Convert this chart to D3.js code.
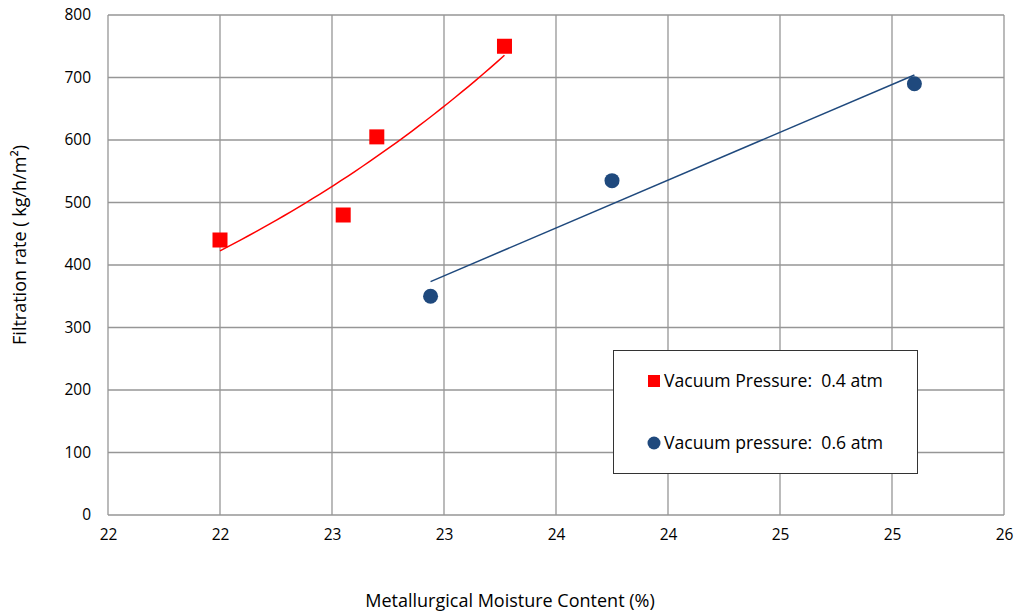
<!DOCTYPE html>
<html>
<head>
<meta charset="utf-8">
<script src="https://cdn.jsdelivr.net/npm/d3@7"></script>
<style>
  body { margin: 0; background: #fff; }
  text { font-family: "Open Sans", Lato, sans-serif; fill: #000; white-space: pre; }
</style>
</head>
<body>
<div class="chart"></div>
<script>
// data
var lowMoisture = [22.0, 22.55, 22.70, 23.27];
var lowRate = [440, 480, 605, 750];
var highMoisture = [22.94, 23.75, 25.10];
var highRate = [350, 535, 690];
var seriesNames = ["Vacuum Pressure:  0.4 atm", "Vacuum pressure:  0.6 atm"];
var xTickValues = [21.5, 22, 22.5, 23, 23.5, 24, 24.5, 25, 25.5];
var xTickLabels = ["22", "22", "23", "23", "24", "24", "25", "25", "26"];
var yTickValues = [0, 100, 200, 300, 400, 500, 600, 700, 800];

var width = 1018, height = 612;
var plotLeft = 108, plotRight = 1004, plotTop = 15, plotBottom = 515;

var svg = d3.select(".chart").append("svg")
    .attr("width", width)
    .attr("height", height);

var x = d3.scaleLinear().domain([21.5, 25.5]).range([plotLeft, plotRight]);
var y = d3.scaleLinear().domain([0, 800]).range([plotBottom, plotTop]);

// grid
var grid = svg.append("g");
grid.selectAll("line.v").data(xTickValues).enter().append("line")
    .attr("x1", d => x(d)).attr("x2", d => x(d))
    .attr("y1", plotTop).attr("y2", plotBottom)
    .attr("stroke", "#969696").attr("stroke-width", 1.3);
grid.selectAll("line.h").data(yTickValues).enter().append("line")
    .attr("x1", plotLeft).attr("x2", plotRight)
    .attr("y1", d => y(d)).attr("y2", d => y(d))
    .attr("stroke", "#969696").attr("stroke-width", 1.3);

// axes (labels only)
var xAxis = d3.axisBottom(x).tickValues(xTickValues)
    .tickFormat((d, i) => xTickLabels[i]).tickSize(0).tickPadding(14);
svg.append("g").attr("transform", "translate(0," + plotBottom + ")").call(xAxis)
    .call(g => g.select(".domain").remove())
    .selectAll("text").style("font-size", "15.5px").style("font-family", "'Open Sans'").attr("fill", "#000");

var yAxis = d3.axisLeft(y).tickValues(yTickValues).tickSize(0).tickPadding(17);
svg.append("g").attr("transform", "translate(" + plotLeft + ",0)").call(yAxis)
    .call(g => g.select(".domain").remove())
    .selectAll("text").style("font-size", "15.5px").style("font-family", "'Open Sans'").attr("fill", "#000");

// trendlines computed from the points
function linFit(xs, ys) {
    var mx = d3.mean(xs), my = d3.mean(ys);
    var sxy = d3.sum(xs, (v, i) => (v - mx) * (ys[i] - my));
    var sxx = d3.sum(xs, v => (v - mx) * (v - mx));
    var b = sxy / sxx;
    return { a: my - b * mx, b: b };
}

var expFit = linFit(lowMoisture, lowRate.map(Math.log));
var xLo = d3.extent(lowMoisture);
var expPts = d3.range(0, 41).map(i => {
    var xv = xLo[0] + (xLo[1] - xLo[0]) * i / 40;
    return [xv, Math.exp(expFit.a + expFit.b * xv)];
});
var lineGen = d3.line().x(d => x(d[0])).y(d => y(d[1]));
svg.append("path").datum(expPts).attr("d", lineGen)
    .attr("fill", "none").attr("stroke", "#ff0000").attr("stroke-width", 1.5);

var lf = linFit(highMoisture, highRate);
var xHi = d3.extent(highMoisture);
svg.append("path").datum(xHi.map(v => [v, lf.a + lf.b * v])).attr("d", lineGen)
    .attr("fill", "none").attr("stroke", "#1f497d").attr("stroke-width", 1.5);

// markers
var sq = 15;
svg.selectAll("rect.low").data(lowMoisture).enter().append("rect")
    .attr("x", d => x(d) - sq / 2)
    .attr("y", (d, i) => y(lowRate[i]) - sq / 2)
    .attr("width", sq).attr("height", sq)
    .attr("fill", "#ff0000");

svg.selectAll("circle.high").data(highMoisture).enter().append("circle")
    .attr("cx", d => x(d))
    .attr("cy", (d, i) => y(highRate[i]))
    .attr("r", 7.5)
    .attr("fill", "#1f497d");

// legend
var lg = svg.append("g");
lg.append("rect").attr("x", 613.5).attr("y", 350.5).attr("width", 304).attr("height", 123)
    .attr("fill", "#fff").attr("stroke", "#333").attr("stroke-width", 1);
lg.append("rect").attr("x", 648).attr("y", 375).attr("width", 12).attr("height", 12)
    .attr("fill", "#ff0000");
lg.append("circle").attr("cx", 654).attr("cy", 443).attr("r", 6.5)
    .attr("fill", "#1f497d");
lg.selectAll("text").data(seriesNames).enter().append("text")
    .attr("x", 664).attr("y", (d, i) => 387 + i * 62)
    .style("font-size", "17.6px").text(d => d);

// axis titles
svg.append("text").attr("x", 510).attr("y", 607)
    .attr("text-anchor", "middle").style("font-size", "18px")
    .text("Metallurgical Moisture Content (%)");
svg.append("text")
    .attr("transform", "translate(26," + 245 + ") rotate(-90)")
    .attr("text-anchor", "middle").style("font-size", "18px")
    .text("Filtration rate ( kg/h/m²)");
</script>
</body>
</html>
